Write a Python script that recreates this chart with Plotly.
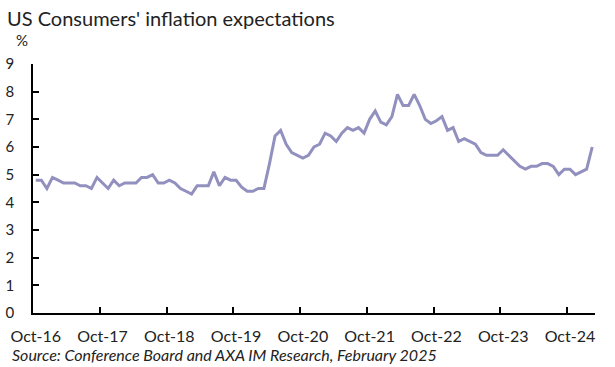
import plotly.graph_objects as go

months = ["Oct", "Nov", "Dec", "Jan", "Feb", "Mar", "Apr", "May", "Jun", "Jul", "Aug", "Sep"]
# Oct-16 .. Feb-25 monthly
dates = []
y, m = 16, 0
for k in range(101):
    dates.append(f"{months[m]}-{y}")
    m += 1
    if m == 3:
        y += 1
    if m == 12:
        m = 0

values = [4.8, 4.8, 4.5, 4.9, 4.8, 4.7, 4.7, 4.7, 4.6, 4.6, 4.5, 4.9,
          4.7, 4.5, 4.8, 4.6, 4.7, 4.7, 4.7, 4.9, 4.9, 5.0, 4.7, 4.7,
          4.8, 4.7, 4.5, 4.4, 4.3, 4.6, 4.6, 4.6, 5.1, 4.6, 4.9, 4.8,
          4.8, 4.55, 4.4, 4.4, 4.5, 4.5, 5.4, 6.4, 6.6, 6.1, 5.8, 5.7,
          5.6, 5.7, 6.0, 6.1, 6.5, 6.4, 6.2, 6.5, 6.7, 6.6, 6.7, 6.5,
          7.0, 7.3, 6.9, 6.8, 7.1, 7.9, 7.5, 7.5, 7.9, 7.5, 7.0, 6.85,
          6.95, 7.1, 6.6, 6.7, 6.2, 6.3, 6.2, 6.1, 5.8, 5.7, 5.7, 5.7,
          5.9, 5.7, 5.5, 5.3, 5.2, 5.3, 5.3, 5.4, 5.4, 5.3, 5.0, 5.2,
          5.2, 5.0, 5.1, 5.2, 6.0]

x_tick_labels = ["Oct-16", "Oct-17", "Oct-18", "Oct-19", "Oct-20",
                 "Oct-21", "Oct-22", "Oct-23", "Oct-24"]
y_ticks = list(range(0, 10))

title_text = "US Consumers' inflation expectations"
unit_text = "%"
source_text = "Source: Conference Board and AXA IM Research, February 2025"

idx = list(range(len(values)))
label_pos = [dates.index(l) for l in x_tick_labels]
boundary_pos = [p - 0.5 for p in label_pos]

FONT = "Lato"
W, H = 615, 367
L, R, T, B = 33, 20, 64, 54
PW, PH = W - L - R, H - T - B

def px(xp):
    return (xp - L) / PW

def py(yp):
    return (H - B - yp) / PH

fig = go.Figure()
fig.add_trace(go.Scatter(x=idx, y=values, mode="lines",
                         line=dict(color="rgb(146,144,190)", width=3),
                         hovertext=dates, showlegend=False))
fig.add_trace(go.Scatter(x=[-0.5], y=[0], xaxis="x2", mode="markers",
                         marker=dict(opacity=0), showlegend=False, hoverinfo="skip"))

fig.update_layout(
    width=W, height=H,
    margin=dict(l=L, r=R, t=T, b=B, autoexpand=False),
    plot_bgcolor="white", paper_bgcolor="white",
    font=dict(family=FONT, size=15, color="#222"),
    xaxis=dict(range=[-0.5, 100.5], tickmode="array", tickvals=label_pos,
               ticktext=x_tick_labels, ticks="", showline=True, automargin=False,
               linecolor="black", linewidth=1.5, showgrid=False, zeroline=False,
               ticklabelstandoff=8,
               tickfont=dict(family=FONT, size=16, color="#222")),
    xaxis2=dict(range=[-0.5, 100.5], overlaying="x", anchor="y", side="bottom",
                tickmode="array", tickvals=boundary_pos, ticks="inside",
                ticklen=6, tickwidth=1.5, tickcolor="black", automargin=False,
                showticklabels=False, showgrid=False, zeroline=False, showline=False),
    yaxis=dict(range=[0, 9], tickmode="array", tickvals=y_ticks,
               ticks="inside", ticklen=6, tickwidth=1.5, tickcolor="black",
               showline=True, linecolor="black", linewidth=1.5, automargin=False,
               showgrid=False, zeroline=False, ticklabelstandoff=14,
               tickfont=dict(family=FONT, size=15, color="#222")),
    annotations=[
        dict(text=title_text, xref="paper", yref="paper", x=px(5), y=py(18),
             xanchor="left", yanchor="middle", showarrow=False,
             font=dict(family=FONT, size=20, color="#222")),
        dict(text=unit_text, xref="paper", yref="paper", x=px(14), y=py(40),
             xanchor="left", yanchor="middle", showarrow=False,
             font=dict(family=FONT, size=15, color="#222")),
        dict(text="<i>" + source_text + "</i>", xref="paper", yref="paper",
             x=px(10), y=py(355), xanchor="left", yanchor="middle", showarrow=False,
             font=dict(family=FONT, size=16, color="#222")),
    ],
)

fig.write_html("out.html", config={"displayModeBar": False},
               post_script="document.body.style.margin='0';document.body.style.padding='0';")
